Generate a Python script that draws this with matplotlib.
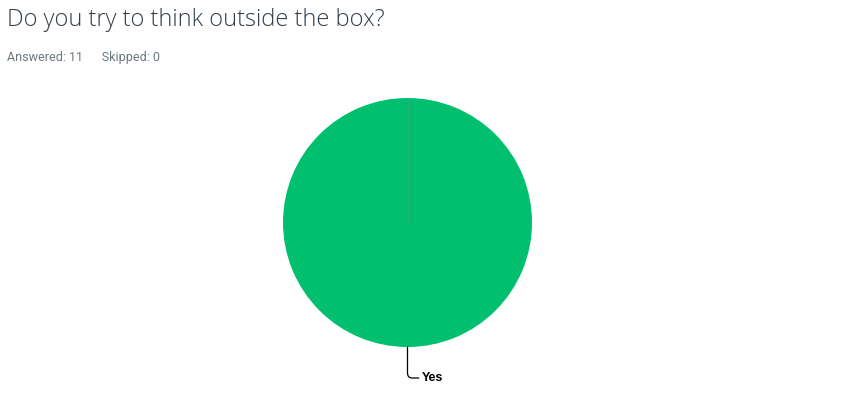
import matplotlib
matplotlib.use("Agg")
import matplotlib.pyplot as plt

title = "Do you try to think outside the box?"
answered = 11
skipped = 0
categories = ["Yes"]
values = [11]
colors = ["#00BF6F"]

W, H = 864, 417
fig = plt.figure(figsize=(W / 100, H / 100), dpi=100)
ax = fig.add_axes([0, 0, 1, 1])

cx, cy, r = 407.5, 222.5, 124.5
wedges, _ = ax.pie(values, colors=colors, startangle=90, counterclock=False,
                   center=(cx, cy), radius=r, frame=True,
                   wedgeprops=dict(linewidth=0))
ax.set_xlim(0, W)
ax.set_ylim(H, 0)
ax.set_aspect("equal")
ax.axis("off")
# thin seam line of the single slice
ax.plot([cx, cx], [cy, cy - r], color="#5a9f80", lw=0.5, alpha=0.6)

# leader line & label
ax.annotate(categories[0], xy=(cx, cy + r), xytext=(cx + 14, cy + r + 31),
            fontsize=9, fontweight="semibold", family="Liberation Sans",
            color="#000000", va="center", ha="left",
            arrowprops=dict(arrowstyle="-", color="black", lw=0.9,
                            connectionstyle="angle,angleA=0,angleB=90,rad=5",
                            shrinkA=0, shrinkB=0, relpos=(0, 0.5)))

fig.text(7 / W, 1 - 20 / H, title, fontsize=17, family="Open Sans",
         fontweight="light", color="#333e48", va="center", ha="left")
fig.text(7 / W, 1 - 57 / H, f"Answered: {answered}      Skipped: {skipped}",
         fontsize=9, family="Roboto", color="#6b787f", va="center", ha="left")

fig.savefig("out.png", dpi=100, facecolor="white")
